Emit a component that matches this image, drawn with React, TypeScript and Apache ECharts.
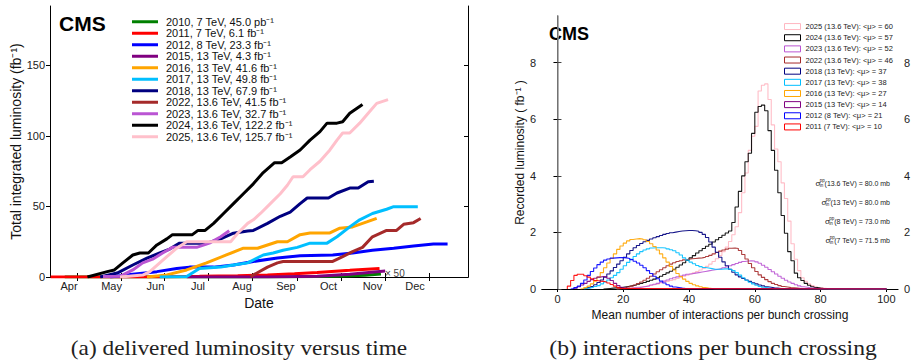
import React, { useEffect, useRef } from 'react';
import * as echarts from 'echarts';

const FONT = '"Liberation Sans", Arial, Helvetica, sans-serif';
const SERIF = '"Liberation Serif", "DejaVu Serif", serif';

// ---------------- Left panel: delivered luminosity vs time ----------------
// x = day of year, y = integrated luminosity (fb^-1)
const monthLabels = ['Apr', 'May', 'Jun', 'Jul', 'Aug', 'Sep', 'Oct', 'Nov', 'Dec'];
const monthDays = [91, 121, 152, 182, 213, 244, 274, 305, 335];
const dateTickDays = [96.6, 127.7, 158, 189, 220, 252, 283, 314, 345];
const lumiTicks = [0, 50, 100, 150];

const lumi2010: [number, number][] = [[88, 0], [200, 0], [250, 0.1], [280, 0.5], [300, 1.3], [311, 2.2]];
const lumi2011: [number, number][] = [[78, 0], [136, 0], [160, 0.2], [183, 0.5], [210, 0.9], [231, 1.4], [250, 2.3], [266, 3.2], [289, 4.7], [310, 6.1]];
const lumi2012: [number, number][] = [[120, 0], [136, 2], [153, 3.8], [167, 6], [176, 7], [193, 7], [207, 8.5], [221, 11], [238, 13.4], [254, 15], [277, 15.6], [291, 17], [305, 19], [320, 20.4], [334, 22], [348, 23.3], [358, 23.3]];
const lumi2015: [number, number][] = [[174, 0], [231, 0], [266, 0.5], [289, 2], [314, 4.3]];
const lumi2016: [number, number][] = [[146, 0], [160, 1.5], [174, 5], [188, 10], [202, 15.6], [214, 20.4], [224, 20.4], [231, 22.7], [238, 25], [245, 25], [254, 30], [261, 31.2], [275, 31.2], [282, 34.6], [291, 35.5], [301, 39], [308, 41.6]];
const lumi2017: [number, number][] = [[155, 0], [174, 0.3], [183, 6], [198, 7], [207, 8.5], [217, 10], [228, 15.6], [235, 17], [242, 19], [252, 21], [261, 24], [273, 24], [280, 28.5], [289, 35.5], [296, 40.5], [305, 45], [315, 48], [320, 49.8], [337, 49.8]];
const lumi2018: [number, number][] = [[113, 0], [125, 2.8], [136, 8.5], [146, 13.4], [155, 17], [162, 19.8], [169, 24], [179, 24], [188, 24], [198, 27], [207, 31], [217, 32.6], [221, 33], [231, 38], [240, 43], [247, 46], [254, 52], [259, 56], [268, 56], [274, 56], [280, 59.5], [289, 63], [295, 63], [302, 67.5], [306, 67.9]];
const lumi2022: [number, number][] = [[219, 0.3], [231, 7], [238, 10], [242, 11], [254, 11], [277, 11], [284, 14.4], [291, 18], [298, 21], [305, 28.5], [315, 33], [322, 33], [327, 37.3], [334, 38.5], [339, 41.5]];
const lumi2023: [number, number][] = [[115, 0.3], [127, 0.5], [136, 5], [143, 10], [150, 12.6], [157, 17], [164, 21], [171, 21], [181, 21], [190, 24], [198, 28.5], [204, 32.7]];
const lumi2024: [number, number][] = [[104, 0], [118, 3.8], [123, 5], [129, 10], [136, 15.6], [141, 17], [147, 17], [153, 22.7], [160, 27], [164, 30], [171, 30], [178, 30], [182, 33], [187, 33], [193, 38], [200, 45], [207, 52], [214, 59], [221, 66], [228, 74], [236, 81], [241, 81], [247, 85], [254, 90], [261, 97], [268, 103], [273, 109], [280, 109], [284, 110], [289, 116], [298, 122.2]];
const lumi2025: [number, number][] = [[127, 0], [143, 1.4], [148, 3.8], [155, 10], [160, 14.4], [167, 20.4], [174, 25], [183, 25], [193, 25], [205, 25], [210, 31], [217, 38], [221, 40.5], [226, 45], [233, 52], [240, 59], [245, 65], [249, 71], [256, 71], [261, 76], [268, 82], [275, 90], [280, 97], [284, 102], [289, 102], [296, 109], [302, 116], [308, 123], [316, 125.7]];

const lumiNames = [
  '2010, 7 TeV, 45.0 pb⁻¹',
  '2011, 7 TeV, 6.1 fb⁻¹',
  '2012, 8 TeV, 23.3 fb⁻¹',
  '2015, 13 TeV, 4.3 fb⁻¹',
  '2016, 13 TeV, 41.6 fb⁻¹',
  '2017, 13 TeV, 49.8 fb⁻¹',
  '2018, 13 TeV, 67.9 fb⁻¹',
  '2022, 13.6 TeV, 41.5 fb⁻¹',
  '2023, 13.6 TeV, 32.7 fb⁻¹',
  '2024, 13.6 TeV, 122.2 fb⁻¹',
  '2025, 13.6 TeV, 125.7 fb⁻¹',
];
const lumiColors = ['#008000', '#ff0000', '#0000ff', '#800080', '#ffa500', '#00bfff', '#000080', '#a52a2a', '#ba55d3', '#000000', '#ffc0cb'];
const lumiSets = [lumi2010, lumi2011, lumi2012, lumi2015, lumi2016, lumi2017, lumi2018, lumi2022, lumi2023, lumi2024, lumi2025];

// ---------------- Right panel: pileup distributions ----------------
// Each histogram: first bin (mu) and recorded luminosity per unit-mu bin
const muTicks = [0, 20, 40, 60, 80, 100];
const recTicks = [0, 2, 4, 6, 8];

const h2025Start = 18;
const h2025 = [0.01, 0.02, 0.03, 0.04, 0.05, 0.06, 0.07, 0.08, 0.1, 0.12, 0.14, 0.16, 0.18, 0.21, 0.24, 0.27, 0.3, 0.33, 0.37, 0.41, 0.45, 0.49, 0.53, 0.57, 0.62, 0.67, 0.73, 0.8, 0.88, 0.97, 1.07, 1.18, 1.32, 1.48, 1.68, 1.92, 2.2, 2.7, 3.4, 4.1, 4.9, 5.4, 5.75, 7.0, 7.2, 7.25, 6.7, 5.8, 4.95, 4.5, 3.75, 3.2, 2.4, 1.6, 1.05, 0.65, 0.4, 0.27, 0.18, 0.12, 0.08, 0.05, 0.03, 0.02, 0.01];
const h2024Start = 14;
const h2024 = [0.01, 0.02, 0.03, 0.04, 0.05, 0.06, 0.08, 0.1, 0.12, 0.14, 0.17, 0.2, 0.23, 0.27, 0.31, 0.35, 0.4, 0.45, 0.51, 0.57, 0.63, 0.7, 0.77, 0.85, 0.93, 1.01, 1.1, 1.18, 1.27, 1.35, 1.43, 1.51, 1.58, 1.66, 1.74, 1.82, 1.9, 1.98, 2.05, 2.35, 2.9, 3.45, 4.0, 4.5, 4.8, 5.5, 6.25, 6.45, 6.5, 6.3, 5.6, 4.9, 4.2, 3.4, 2.6, 1.97, 1.32, 1.0, 0.56, 0.4, 0.3, 0.2, 0.13, 0.08, 0.05, 0.03, 0.02, 0.01];
const h2023Start = 20;
const h2023 = [0.01, 0.02, 0.03, 0.04, 0.05, 0.07, 0.09, 0.11, 0.14, 0.17, 0.2, 0.24, 0.28, 0.32, 0.36, 0.4, 0.43, 0.46, 0.49, 0.52, 0.54, 0.56, 0.58, 0.6, 0.62, 0.64, 0.66, 0.68, 0.7, 0.72, 0.75, 0.78, 0.82, 0.86, 0.9, 0.94, 0.97, 0.99, 1.0, 0.99, 0.96, 0.91, 0.84, 0.77, 0.69, 0.61, 0.53, 0.45, 0.38, 0.31, 0.25, 0.2, 0.15, 0.11, 0.08, 0.06, 0.04, 0.03, 0.02, 0.01, 0.01];
const h2022Start = 18;
const h2022 = [0.01, 0.02, 0.04, 0.07, 0.1, 0.14, 0.19, 0.25, 0.31, 0.38, 0.45, 0.53, 0.61, 0.68, 0.75, 0.82, 0.88, 0.93, 0.97, 1.0, 1.03, 1.05, 1.07, 1.08, 1.09, 1.1, 1.12, 1.15, 1.19, 1.24, 1.29, 1.34, 1.38, 1.41, 1.44, 1.45, 1.43, 1.36, 1.22, 1.06, 0.9, 0.75, 0.62, 0.5, 0.41, 0.33, 0.26, 0.2, 0.16, 0.12, 0.09, 0.07, 0.05, 0.04, 0.03, 0.02, 0.01];
const h2018Start = 8;
const h2018 = [0.02, 0.05, 0.09, 0.15, 0.23, 0.32, 0.42, 0.53, 0.64, 0.76, 0.88, 1.0, 1.12, 1.24, 1.36, 1.46, 1.54, 1.61, 1.67, 1.72, 1.77, 1.81, 1.85, 1.89, 1.93, 1.96, 1.99, 2.01, 2.03, 2.05, 2.06, 2.07, 2.07, 2.06, 2.04, 2.0, 1.93, 1.82, 1.66, 1.48, 1.3, 1.12, 0.96, 0.82, 0.7, 0.59, 0.5, 0.43, 0.37, 0.32, 0.27, 0.22, 0.18, 0.14, 0.11, 0.08, 0.06, 0.04, 0.03, 0.02, 0.01];
const h2017Start = 8;
const h2017 = [0.02, 0.04, 0.06, 0.09, 0.12, 0.18, 0.25, 0.32, 0.4, 0.48, 0.58, 0.7, 0.82, 0.94, 1.05, 1.15, 1.24, 1.32, 1.38, 1.42, 1.45, 1.46, 1.46, 1.46, 1.45, 1.42, 1.39, 1.35, 1.28, 1.2, 1.1, 1.02, 0.95, 0.89, 0.83, 0.79, 0.76, 0.74, 0.72, 0.7, 0.7, 0.7, 0.71, 0.71, 0.69, 0.65, 0.58, 0.49, 0.4, 0.31, 0.24, 0.18, 0.13, 0.09, 0.06, 0.04, 0.02, 0.01];
const h2016Start = 7;
const h2016 = [0.02, 0.05, 0.1, 0.18, 0.28, 0.42, 0.58, 0.75, 0.92, 1.08, 1.24, 1.4, 1.52, 1.62, 1.7, 1.75, 1.77, 1.78, 1.77, 1.74, 1.68, 1.6, 1.5, 1.38, 1.24, 1.1, 0.95, 0.8, 0.67, 0.55, 0.44, 0.35, 0.27, 0.2, 0.15, 0.11, 0.08, 0.05, 0.03, 0.02, 0.01];
const h2015Start = 5;
const h2015 = [0.03, 0.08, 0.14, 0.2, 0.27, 0.33, 0.38, 0.42, 0.44, 0.43, 0.38, 0.3, 0.2, 0.12, 0.06, 0.03, 0.01];
const h2012Start = 4;
const h2012 = [0.02, 0.05, 0.1, 0.2, 0.32, 0.48, 0.62, 0.74, 0.86, 0.95, 1.02, 1.06, 1.09, 1.1, 1.11, 1.11, 1.1, 1.08, 1.04, 0.98, 0.92, 0.84, 0.75, 0.65, 0.55, 0.45, 0.36, 0.28, 0.21, 0.15, 0.1, 0.07, 0.05, 0.03, 0.02, 0.01];
const h2011Start = 3;
const h2011 = [0.1, 0.3, 0.48, 0.52, 0.52, 0.47, 0.42, 0.36, 0.3, 0.28, 0.27, 0.25, 0.21, 0.16, 0.1, 0.05, 0.02];

const histNames = [
  '2025 (13.6 TeV): <μ> = 60',
  '2024 (13.6 TeV): <μ> = 57',
  '2023 (13.6 TeV): <μ> = 52',
  '2022 (13.6 TeV): <μ> = 46',
  '2018 (13 TeV): <μ> = 37',
  '2017 (13 TeV): <μ> = 38',
  '2016 (13 TeV): <μ> = 27',
  '2015 (13 TeV): <μ> = 14',
  '2012 (8 TeV): <μ> = 21',
  '2011 (7 TeV): <μ> = 10',
];
const histColors = ['#ffb6c1', '#000000', '#ba55d3', '#a52a2a', '#000080', '#00bfff', '#ffa500', '#800080', '#0000ff', '#ff0000'];
const histStarts = [h2025Start, h2024Start, h2023Start, h2022Start, h2018Start, h2017Start, h2016Start, h2015Start, h2012Start, h2011Start];
const histValues = [h2025, h2024, h2023, h2022, h2018, h2017, h2016, h2015, h2012, h2011];

const sigmaLines = [
  { energy: '(13.6 TeV) = 80.0 mb' },
  { energy: '(13 TeV) = 80.0 mb' },
  { energy: '(8 TeV) = 73.0 mb' },
  { energy: '(7 TeV) = 71.5 mb' },
];

function histPoints(start: number, vals: number[]): [number, number][] {
  const pts: [number, number][] = [[start, 0]];
  vals.forEach((v, i) => pts.push([start + i, v]));
  pts.push([start + vals.length, 0]);
  pts.push([100, 0]);
  return pts;
}

function buildOption(): any {
  const leftSeries = lumiSets.map((d, i) => ({
    type: 'line',
    name: lumiNames[i],
    xAxisIndex: 0,
    yAxisIndex: 0,
    data: d,
    showSymbol: false,
    symbol: 'none',
    silent: true,
    z: 2 + i,
    color: lumiColors[i],
    lineStyle: { width: 3, color: lumiColors[i] },
  }));
  const rightSeries = histValues.map((vals, i) => ({
    type: 'line',
    name: histNames[i],
    xAxisIndex: 2,
    yAxisIndex: 2,
    data: histPoints(histStarts[i], vals),
    step: 'end',
    showSymbol: false,
    symbol: 'none',
    silent: true,
    z: 2 + i,
    color: histColors[i],
    lineStyle: { width: 1.1, color: histColors[i], opacity: 0.9 },
  }));

  const labelStyle = { fontFamily: FONT, fontSize: 11, color: '#222' };
  const blackLine = { show: true, lineStyle: { color: '#000', width: 1 } };

  const sigmaGraphics: any[] = [];
  const sigmaX = [815.5, 821.5, 825, 825.5];
  const sigmaY = [183, 202, 221, 240];
  sigmaLines.forEach((s, i) => {
    const x = sigmaX[i];
    const y = sigmaY[i];
    sigmaGraphics.push(
      { type: 'text', x, y, style: { text: 'σ', fontFamily: FONT, fontSize: 8, fill: '#222', verticalAlign: 'middle' } },
      { type: 'text', x: x + 4.3, y: y - 2.6, style: { text: 'pp', fontFamily: FONT, fontSize: 4.5, fill: '#222', verticalAlign: 'middle' } },
      { type: 'text', x: x + 4.3, y: y + 2.4, style: { text: 'in', fontFamily: FONT, fontSize: 4.5, fill: '#222', verticalAlign: 'middle' } },
      { type: 'text', x: 890, y, style: { text: s.energy, fontFamily: FONT, fontSize: 7, fill: '#222', align: 'right', verticalAlign: 'middle' } },
    );
  });

  return {
    animation: false,
    backgroundColor: '#ffffff',
    textStyle: { fontFamily: FONT },
    grid: [
      { left: 50, top: 6, width: 418, height: 271 },
      { left: 542, top: 16, width: 359, height: 273 },
    ],
    xAxis: [
      {
        type: 'value', gridIndex: 0, position: 'bottom', min: 77.6, max: 372.4,
        axisLine: blackLine,
        axisTick: { show: true, inside: true, length: 4, customValues: dateTickDays, lineStyle: { color: '#000' } },
        axisLabel: { ...labelStyle, margin: 3, customValues: monthDays, formatter: (v: number) => monthLabels[monthDays.indexOf(v)] ?? '' },
        splitLine: { show: false },
        name: 'Date', nameLocation: 'middle', nameGap: 17,
        nameTextStyle: { fontFamily: FONT, fontSize: 14, color: '#111' },
      },
      {
        type: 'value', gridIndex: 0, position: 'top', min: 77.6, max: 372.4,
        axisLine: blackLine,
        axisTick: { show: true, inside: true, length: 4, customValues: dateTickDays, lineStyle: { color: '#000' } },
        axisLabel: { show: false },
        splitLine: { show: false },
      },
      {
        type: 'value', gridIndex: 1, position: 'bottom', min: -4.7, max: 103.5,
        axisLine: blackLine,
        axisTick: { show: true, inside: false, length: 3, customValues: muTicks, lineStyle: { color: '#000' } },
        axisLabel: { ...labelStyle, margin: 4, customValues: muTicks },
        splitLine: { show: false },
        name: 'Mean number of interactions per bunch crossing', nameLocation: 'middle', nameGap: 17,
        nameTextStyle: { fontFamily: FONT, fontSize: 12, color: '#111' },
      },
      {
        type: 'value', gridIndex: 1, position: 'top', min: -4.7, max: 103.5,
        axisLine: blackLine,
        axisTick: { show: false },
        axisLabel: { show: false },
        splitLine: { show: false },
      },
    ],
    yAxis: [
      {
        type: 'value', gridIndex: 0, position: 'left', min: 0, max: 192,
        axisLine: blackLine,
        axisTick: { show: true, inside: false, length: 4, customValues: lumiTicks, lineStyle: { color: '#000' } },
        axisLabel: { ...labelStyle, margin: 5, customValues: lumiTicks },
        splitLine: { show: false },
        name: 'Total integrated luminosity (fb⁻¹)', nameLocation: 'middle', nameGap: 25,
        nameTextStyle: { fontFamily: FONT, fontSize: 14, color: '#111' },
      },
      {
        type: 'value', gridIndex: 0, position: 'right', min: 0, max: 192,
        axisLine: blackLine,
        axisTick: { show: true, inside: true, length: 4, customValues: lumiTicks, lineStyle: { color: '#000' } },
        axisLabel: { show: false },
        splitLine: { show: false },
      },
      {
        type: 'value', gridIndex: 1, position: 'left', min: 0, max: 9.65,
        axisLine: blackLine,
        axisTick: { show: true, inside: false, length: 4, customValues: recTicks, lineStyle: { color: '#000' } },
        axisLabel: { ...labelStyle, margin: 6, customValues: recTicks },
        splitLine: { show: false },
        name: 'Recorded luminosity ( fb⁻¹ )', nameLocation: 'middle', nameGap: 15,
        nameTextStyle: { fontFamily: FONT, fontSize: 12, color: '#111' },
      },
      {
        type: 'value', gridIndex: 1, position: 'right', min: 0, max: 9.65,
        axisLine: { show: true, lineStyle: { color: '#999', width: 1.5 } },
        axisTick: { show: true, inside: false, length: 4, customValues: recTicks, lineStyle: { color: '#444' } },
        axisLabel: { ...labelStyle, margin: 6, customValues: recTicks },
        splitLine: { show: false },
      },
    ],
    legend: [
      {
        data: lumiNames,
        orient: 'vertical', left: 132, top: 16, padding: 0,
        icon: 'rect', itemWidth: 26, itemHeight: 3, itemGap: 0,
        itemStyle: { borderWidth: 0 },
        selectedMode: false,
        textStyle: { fontFamily: FONT, fontSize: 11, lineHeight: 11.5, color: '#111', padding: [0, 0, 0, 3] },
      },
      {
        data: histNames.map((n, i) => ({ name: n, icon: 'rect', itemStyle: { color: '#ffffff', borderColor: histColors[i], borderWidth: 1 } })),
        orient: 'vertical', left: 784, top: 21, padding: 0,
        itemWidth: 16, itemHeight: 6, itemGap: 0,
        selectedMode: false,
        textStyle: { fontFamily: FONT, fontSize: 7.5, lineHeight: 11.15, color: '#222' },
      },
    ],
    graphic: [
      { type: 'text', x: 59, y: 23, style: { text: 'CMS', fontFamily: FONT, fontWeight: 'bold', fontSize: 21, fill: '#000', verticalAlign: 'middle' } },
      { type: 'text', x: 549, y: 34, style: { text: 'CMS', fontFamily: FONT, fontWeight: 'bold', fontSize: 18, fill: '#000', verticalAlign: 'middle' } },
      { type: 'text', x: 385, y: 273, style: { text: '× 50', fontFamily: FONT, fontSize: 10, fill: '#444', verticalAlign: 'middle' } },
      ...sigmaGraphics,
      { type: 'text', x: 239, y: 349, scaleX: 1.165, style: { text: '(a) delivered luminosity versus time', fontFamily: SERIF, fontSize: 20, fill: '#222', align: 'center', verticalAlign: 'middle' } },
      { type: 'text', x: 713, y: 349, scaleX: 1.18, style: { text: '(b) interactions per bunch crossing', fontFamily: SERIF, fontSize: 20, fill: '#222', align: 'center', verticalAlign: 'middle' } },
    ],
    series: [...leftSeries, ...rightSeries],
  };
}

export default function App() {
  const ref = useRef<HTMLDivElement>(null);
  useEffect(() => {
    document.body.style.margin = '0';
    const chart = echarts.init(ref.current!, null, { renderer: 'svg' });
    chart.setOption(buildOption());
    return () => chart.dispose();
  }, []);
  return <div ref={ref} style={{ width: 913, height: 362 }} />;
}
